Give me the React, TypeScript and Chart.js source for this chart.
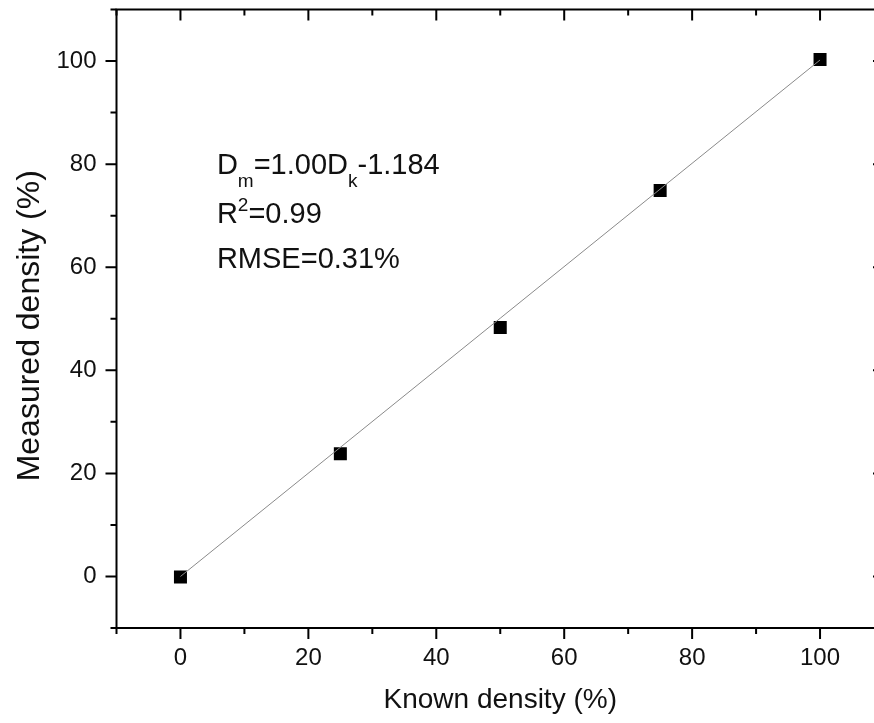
import React, { useEffect, useRef } from 'react';
import { Chart, registerables } from 'chart.js';

Chart.register(...registerables);

const knownDensity = [0, 25, 50, 75, 100];
const measuredDensity = [-0.1, 23.8, 48.3, 74.9, 100.3];
const fitKnown = [0, 100];
const fitMeasured = [0, 100.2];

const xMajorTicks = [0, 20, 40, 60, 80, 100];
const xMinorTicks = [-10, 10, 30, 50, 70, 90, 110];
const yMajorTicks = [0, 20, 40, 60, 80, 100];
const yMinorTicks = [-10, 10, 30, 50, 70, 90, 110];

const xTitle = 'Known density (%)';
const yTitle = 'Measured density (%)';

type Seg = { text: string; mode?: 'sub' | 'sup' };
const equationLine: Seg[] = [
  { text: 'D' },
  { text: 'm', mode: 'sub' },
  { text: '=1.00D' },
  { text: 'k', mode: 'sub' },
  { text: '-1.184' },
];
const r2Line: Seg[] = [{ text: 'R' }, { text: '2', mode: 'sup' }, { text: '=0.99' }];
const rmseLine: Seg[] = [{ text: 'RMSE=0.31%' }];
const annotationLines = [equationLine, r2Line, rmseLine];
const annotationX = 5.7;
const annotationY = [78, 68.5, 59.9];

const FONT = '"Liberation Sans", Arial, sans-serif';

const framePlugin = {
  id: 'frameTicks',
  afterDraw(chart: any) {
    const { ctx, chartArea } = chart;
    const xs = chart.scales.x;
    const ys = chart.scales.y;
    const { left, right, top, bottom } = chartArea;
    ctx.save();
    ctx.strokeStyle = '#000';
    ctx.lineWidth = 2;
    ctx.lineCap = 'butt';
    ctx.beginPath();
    ctx.rect(left, top, right - left, bottom - top);
    ctx.stroke();

    const major = 11;
    const minor = 6;
    ctx.beginPath();
    const xt = (v: number, len: number) => {
      const p = xs.getPixelForValue(v);
      ctx.moveTo(p, bottom);
      ctx.lineTo(p, bottom + len);
      ctx.moveTo(p, top);
      ctx.lineTo(p, top + len);
    };
    const yt = (v: number, len: number) => {
      const p = ys.getPixelForValue(v);
      ctx.moveTo(left, p);
      ctx.lineTo(left - len, p);
      ctx.moveTo(right, p);
      ctx.lineTo(right - len, p);
    };
    xMajorTicks.forEach((v) => xt(v, major));
    xMinorTicks.forEach((v) => xt(v, minor));
    yMajorTicks.forEach((v) => yt(v, major));
    yMinorTicks.forEach((v) => yt(v, minor));
    ctx.stroke();

    // y axis title
    ctx.fillStyle = '#111';
    ctx.save();
    ctx.translate(30, (top + bottom) / 2 + 7);
    ctx.rotate(-Math.PI / 2);
    ctx.textAlign = 'center';
    ctx.textBaseline = 'middle';
    ctx.font = `32px ${FONT}`;
    ctx.fillText(yTitle, 0, 0);
    ctx.restore();

    // annotation
    ctx.textBaseline = 'alphabetic';
    ctx.textAlign = 'left';
    const mainSize = 29;
    const smallSize = 19;
    annotationLines.forEach((line, i) => {
      let x = xs.getPixelForValue(annotationX);
      const base = ys.getPixelForValue(annotationY[i]);
      line.forEach((seg) => {
        let y = base;
        let size = mainSize;
        if (seg.mode === 'sub') {
          size = smallSize;
          y = base + 13;
        } else if (seg.mode === 'sup') {
          size = smallSize;
          y = base - 12;
        }
        ctx.font = `${size}px ${FONT}`;
        ctx.fillText(seg.text, x, y);
        x += ctx.measureText(seg.text).width;
      });
    });
    ctx.restore();
  },
};

const zeroPad = (s: any) => {
  s.paddingTop = 0;
  s.paddingBottom = 0;
  s.paddingLeft = 0;
  s.paddingRight = 0;
};

export default function App() {
  const ref = useRef<HTMLCanvasElement>(null);
  useEffect(() => {
    if (!ref.current) return;
    const chart = new Chart(ref.current, {
      type: 'scatter',
      data: {
        datasets: [
          {
            type: 'line',
            data: fitKnown.map((x, i) => ({ x, y: fitMeasured[i] })),
            borderColor: '#8a8a8a',
            borderWidth: 1,
            pointRadius: 0,
            fill: false,
          } as any,
          {
            type: 'scatter',
            data: knownDensity.map((x, i) => ({ x, y: measuredDensity[i] })),
            pointStyle: 'rect',
            pointRadius: 9.2,
            backgroundColor: '#000',
            borderWidth: 0,
          },
        ],
      },
      options: {
        animation: false,
        responsive: false,
        devicePixelRatio: 1,
        layout: { padding: { top: 9.5, right: 16, left: 0, bottom: 0 } },
        plugins: { legend: { display: false }, tooltip: { enabled: false } },
        scales: {
          x: {
            type: 'linear',
            min: -10,
            max: 110,
            grid: { display: false, drawTicks: false },
            border: { display: false },
            afterBuildTicks: (s: any) => {
              s.ticks = xMajorTicks.map((v) => ({ value: v }));
            },
            afterFit: (s: any) => {
              s.height = 95;
              zeroPad(s);
            },
            ticks: {
              padding: 16,
              color: '#111',
              font: { family: FONT, size: 24 },
              maxRotation: 0,
              autoSkip: false,
            },
            title: {
              display: true,
              text: xTitle,
              color: '#111',
              font: { family: FONT, size: 28 },
              padding: { top: 0, bottom: 6 },
            },
          },
          y: {
            type: 'linear',
            min: -10,
            max: 110,
            grid: { display: false, drawTicks: false },
            border: { display: false },
            afterBuildTicks: (s: any) => {
              s.ticks = yMajorTicks.map((v) => ({ value: v }));
            },
            afterFit: (s: any) => {
              s.width = 116.5;
              zeroPad(s);
            },
            ticks: {
              padding: 20,
              color: '#111',
              font: { family: FONT, size: 24 },
              autoSkip: false,
            },
            title: { display: false },
          },
        },
      },
      plugins: [framePlugin],
    });
    return () => chart.destroy();
  }, []);

  return (
    <div
      style={{
        position: 'fixed',
        left: 0,
        top: 0,
        width: 874,
        height: 723,
        overflow: 'hidden',
        background: '#fff',
      }}
    >
      <canvas ref={ref} width={900} height={723} style={{ display: 'block', width: 900, height: 723 }} />
    </div>
  );
}
